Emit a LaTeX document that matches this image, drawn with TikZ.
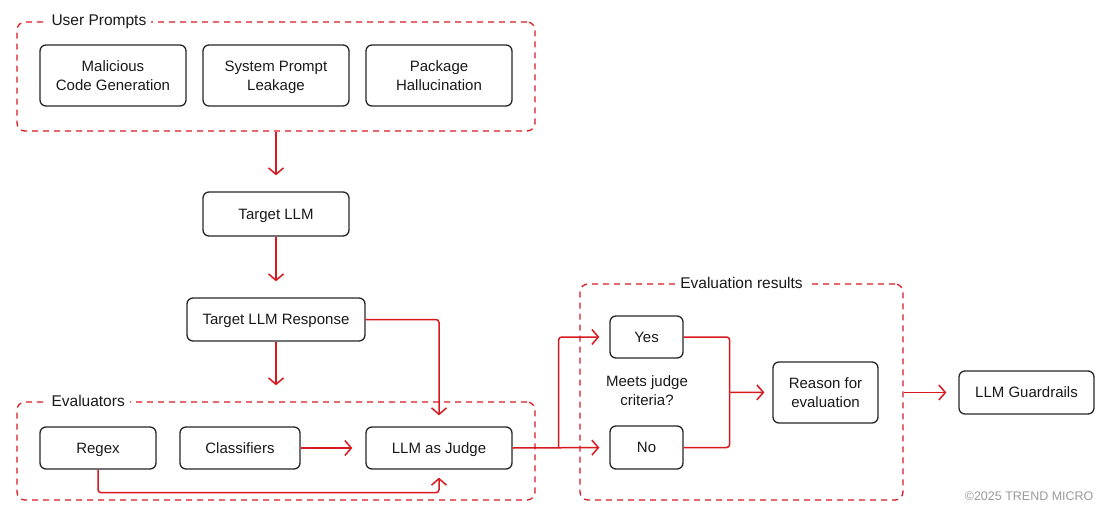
\documentclass[tikz,border=0pt]{standalone}
\usepackage{fontspec}
\setmainfont{Liberation Sans}
\usepackage{xcolor}
\usetikzlibrary{positioning,calc,arrows.meta}
\definecolor{tmred}{HTML}{D71920}
\definecolor{tmgrey}{HTML}{9A9A9A}

\tikzset{
    box/.style={draw=black!85, line width=1.3pt, rounded corners=6pt, align=center, inner sep=0pt, text depth=0pt, text=black!90, font=\fontsize{15}{19}\selectfont},
    group/.style={draw=tmred, line width=1.3pt, dash pattern=on 6pt off 5pt, rounded corners=8pt, inner sep=0pt},
    grouplabel/.style={fill=white, inner xsep=5pt, inner ysep=2pt, text=black!90, font=\fontsize{15.5}{18}\selectfont},
    link/.style={draw=tmred, line width=1.5pt, rounded corners=3pt, -{Straight Barb[length=6.5pt,width=15pt,line width=1.5pt]}},
    wire/.style={draw=tmred, line width=1.5pt, rounded corners=3pt}
}

\begin{document}
\begin{tikzpicture}[x=1pt, y=-1pt]
    \useasboundingbox (0,0) rectangle (1108,516);
    % groups
    \node[group, minimum width=518pt, minimum height=109pt] (prompts) at (276,76.5) {};
    \node[group, minimum width=518pt, minimum height=98pt] (evaluators) at (276,451) {};
    \node[group, minimum width=323pt, minimum height=216pt] (results) at (741.5,392) {};
    \node[grouplabel, anchor=west] at ([xshift=30pt]prompts.north west) {User Prompts};
    \node[grouplabel, anchor=west] at ([xshift=30pt]evaluators.north west) {Evaluators};
    \node[grouplabel] at (results.north) {Evaluation results};

    % user prompts
    \node[box, minimum width=146pt, minimum height=61pt] (malicious) at (113,75.5) {Malicious\\Code Generation};
    \node[box, minimum width=146pt, minimum height=61pt] (leakage) at (276,75.5) {System Prompt\\Leakage};
    \node[box, minimum width=146pt, minimum height=61pt] (hallucination) at (439,75.5) {Package\\Hallucination};

    % target
    \node[box, minimum width=146pt, minimum height=44pt] (target) at (276,214) {Target LLM};
    \node[box, minimum width=178pt, minimum height=43pt] (response) at (276,319.5) {Target LLM Response};

    % evaluators
    \node[box, minimum width=116pt, minimum height=42pt] (regex) at (98,448) {Regex};
    \node[box, minimum width=120pt, minimum height=42pt] (classifiers) at (240,448) {Classifiers};
    \node[box, minimum width=146pt, minimum height=42pt] (judge) at (439,448) {LLM as Judge};

    % results
    \node[box, minimum width=73pt, minimum height=42pt] (yes) at (646.5,337) {Yes};
    \node[box, minimum width=73pt, minimum height=43pt] (no) at (646.5,447.5) {No};
    \node[align=center, text=black!90, font=\fontsize{15}{19}\selectfont] (criteria) at (647,391) {Meets judge\\criteria?};
    \node[box, minimum width=105pt, minimum height=61pt] (reason) at (825.5,392.5) {Reason for\\evaluation};
    \node[box, minimum width=135pt, minimum height=43pt] (guardrails) at (1026.5,392.5) {LLM Guardrails};

    \coordinate (split) at ($(judge.east)+(46,0)$);
    \coordinate (merge) at ($(yes.east)!0.5!(no.east)+(46,0)$);

    % connectors
    \draw[link, shorten >=16pt] (prompts.south) -- (target.north);
    \draw[link, shorten >=16pt] (target.south) -- (response.north);
    \draw[link, shorten >=16pt] (response.south) -- (evaluators.north);
    \draw[link, shorten >=11pt] (response.east) -| (judge.north);
    \draw[link, shorten >=13pt] (classifiers.east) -- (judge.west);
    \draw[link, shorten >=8pt] (regex.south) -- ++(0,23) -| (judge.south);
    \draw[link, shorten >=10pt] (judge.east) -- (no.west);
    \draw[link, shorten >=10pt] (split) |- (yes.west);
    \draw[wire] (yes.east) -| (merge);
    \draw[wire] (no.east) -| (merge);
    \draw[link, shorten >=8pt] (merge) -- (reason.west);
    \draw[link, shorten >=12pt] (results.east |- guardrails.west) -- (guardrails.west);

    \node[anchor=east, text=tmgrey, font=\fontsize{12.5}{15}\selectfont] (copyright) at (1097,496) {©2025 TREND MICRO};
\end{tikzpicture}
\end{document}
